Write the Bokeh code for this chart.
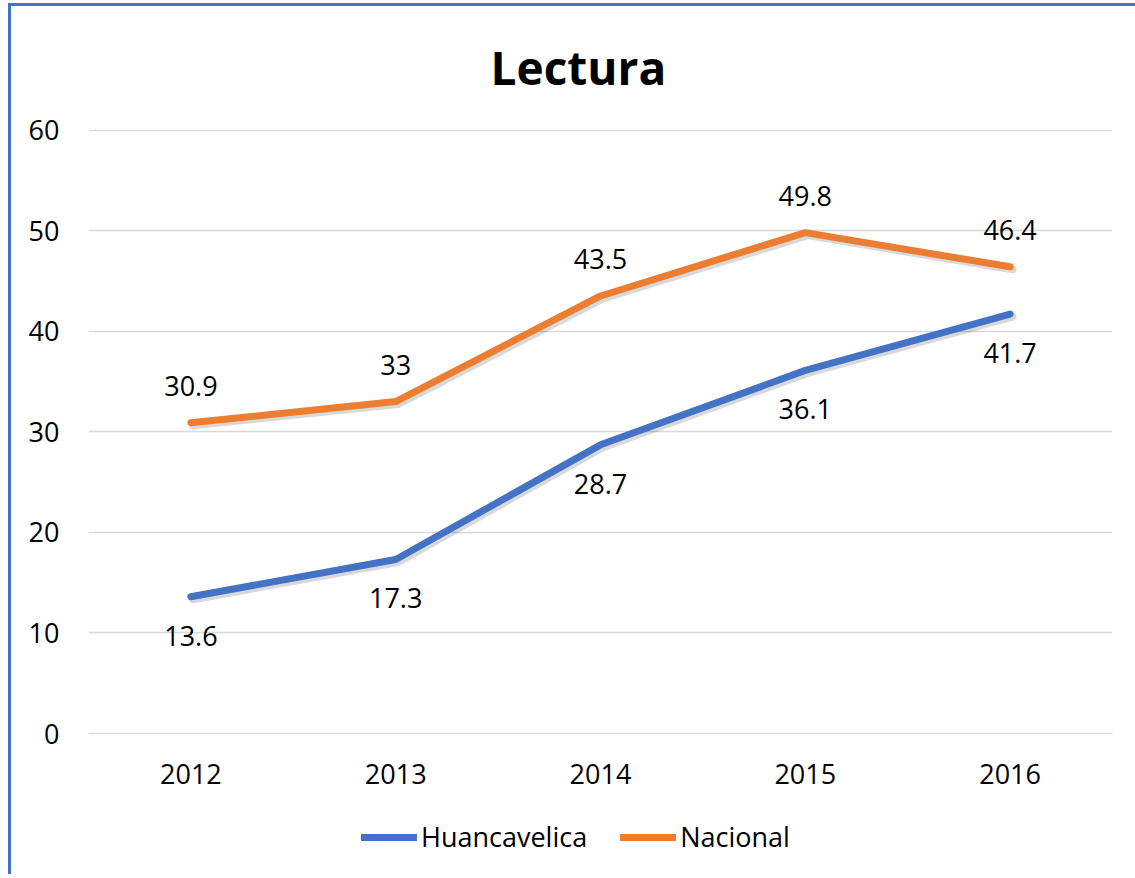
from bokeh.plotting import figure
from bokeh.layouts import column
from bokeh.models import ColumnDataSource, FactorRange, Range1d, LabelSet, Legend, LegendItem, FixedTicker
from bokeh.transform import dodge
from bokeh.core.properties import value
from bokeh.embed import file_html
from bokeh.resources import INLINE

years = ["2012", "2013", "2014", "2015", "2016"]
huancavelica = [13.6, 17.3, 28.7, 36.1, 41.7]
nacional = [30.9, 33, 43.5, 49.8, 46.4]
y_ticks = [0, 10, 20, 30, 40, 50, 60]

BLUE = "#4472C4"
ORANGE = "#ED7D31"
FONT = "Open Sans"

src = ColumnDataSource(dict(
    year=years, h=huancavelica, n=nacional,
    hl=[f"{v:g}" for v in huancavelica], nl=[f"{v:g}" for v in nacional],
))

p = figure(width=1124, height=794, x_range=FactorRange(*years), y_range=Range1d(0, 60.15),
           output_backend="svg", toolbar_location=None,
           min_border_left=77, min_border_right=23, min_border_top=122, min_border_bottom=67)
p.outline_line_color = None
p.background_fill_color = "white"
p.border_fill_color = "white"

# title
p.title.text = "Lectura"
p.title.text_font = FONT
p.title.text_font_size = "46px"
p.title.text_font_style = "bold"
p.title.align = "left"
p.title.offset = 402
p.title.vertical_align = "top"
p.title.text_color = "black"
p.title.standoff = 58

# axes
p.xgrid.grid_line_color = None
p.ygrid.grid_line_color = "#d9d9d9"
p.ygrid.grid_line_width = 1.5
p.yaxis.ticker = FixedTicker(ticks=y_ticks)
for ax in (p.xaxis[0], p.yaxis[0]):
    ax.major_tick_line_color = None
    ax.minor_tick_line_color = None
    ax.major_label_text_font = FONT
    ax.major_label_text_font_size = "27px"
    ax.major_label_text_color = "black"
p.yaxis.axis_line_color = None
p.xaxis.axis_line_color = "#d9d9d9"
p.xaxis.axis_line_width = 1.5
p.yaxis.major_label_standoff = 23
p.xaxis.major_label_standoff = 24

# shadows
for col in ("h", "n"):
    p.line(x=dodge("year", 0.012, range=p.x_range), y=dodge(col, -0.25), source=src,
           line_color="black", line_alpha=0.15, line_width=8, line_cap="round", line_join="round")

p.line(x="year", y="h", source=src, line_color=BLUE, line_width=7, line_cap="round", line_join="round")
p.line(x="year", y="n", source=src, line_color=ORANGE, line_width=7, line_cap="round", line_join="round")

lh = LabelSet(x="year", y="h", text="hl", source=src, y_offset=-39, text_align="center",
              text_baseline="middle", text_font=value(FONT), text_font_size=value("27px"), text_color="black")
ln = LabelSet(x="year", y="n", text="nl", source=src, y_offset=37, text_align="center",
              text_baseline="middle", text_font=value(FONT), text_font_size=value("27px"), text_color="black")
p.add_layout(lh)
p.add_layout(ln)

# legend strip (separate figure; its lines fall outside its visible range)
q = figure(width=1124, height=74, x_range=p.x_range, y_range=Range1d(1000, 1001),
           output_backend="svg", toolbar_location=None, x_axis_location=None, y_axis_location=None,
           min_border=0)
q.outline_line_color = None
q.grid.visible = False
q.border_fill_color = "white"
qh = q.line(x="year", y="h", source=src, line_color=BLUE, line_width=7, line_cap="round")
qn = q.line(x="year", y="n", source=src, line_color=ORANGE, line_width=7, line_cap="round")

legend = Legend(items=[LegendItem(label="Huancavelica", renderers=[qh]),
                       LegendItem(label="Nacional", renderers=[qn])],
                orientation="horizontal", location=(273, 19),
                label_text_font=FONT, label_text_font_size="27px", label_text_color="black",
                glyph_width=56, label_standoff=4, spacing=33, padding=8, margin=0,
                border_line_color=None, background_fill_alpha=0)
q.add_layout(legend)

layout = column(p, q, spacing=0)
layout.styles = {"border-left": "3px solid #4472C4", "border-top": "3px solid #4472C4",
                 "margin-left": "8px", "margin-top": "3px"}

open("out.html", "w").write(file_html(layout, INLINE))
